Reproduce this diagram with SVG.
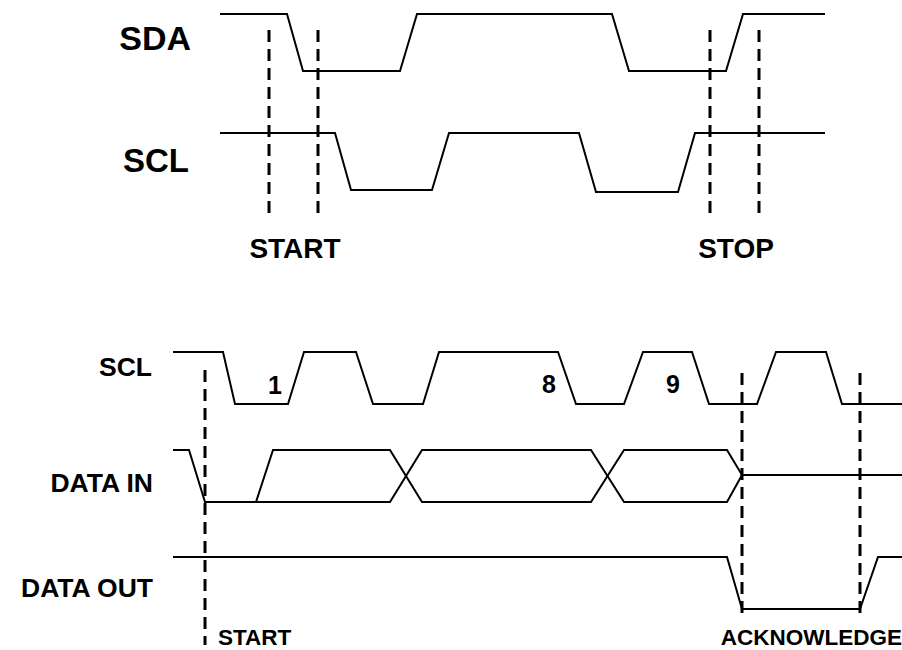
<svg xmlns="http://www.w3.org/2000/svg" width="902" height="650" viewBox="0 0 902 650">
<style>
.w{fill:none;stroke:#000;stroke-width:2;stroke-linejoin:miter}
.d{fill:none;stroke:#000;stroke-width:3;stroke-dasharray:12 7}
.t{font-family:"Liberation Sans",Arial,sans-serif;font-weight:bold;fill:#000}
</style>
<rect width="902" height="650" fill="#fff"/>
<g id="labels">
<text class="t" x="191" y="50" font-size="34" text-anchor="end">SDA</text>
<text class="t" x="189" y="172" font-size="33" text-anchor="end">SCL</text>
<text class="t" x="295" y="258" font-size="28" text-anchor="middle">START</text>
<text class="t" x="736" y="258" font-size="28" text-anchor="middle">STOP</text>
<text class="t" x="152" y="376" font-size="26.5" text-anchor="end">SCL</text>
<text class="t" x="153" y="492" font-size="26.5" text-anchor="end">DATA IN</text>
<text class="t" x="153" y="597" font-size="26.5" text-anchor="end">DATA OUT</text>
<text class="t" x="218" y="645" font-size="22.5">START</text>
<text class="t" x="902" y="645" font-size="22.5" text-anchor="end">ACKNOWLEDGE</text>
<text class="t" x="275" y="394" font-size="25" text-anchor="middle">1</text>
<text class="t" x="549" y="393" font-size="25" text-anchor="middle">8</text>
<text class="t" x="673" y="393" font-size="25" text-anchor="middle">9</text>
</g>
<g id="sda-top">
<polyline class="w" points="220,14 287,14 303,71 400,71 417,14 612,14 629,71 726,71 743,14 825,14"/>
</g>
<g id="scl-top">
<polyline class="w" points="220,133 335,133 351,190 432,190 449,133 579,133 596,192 678,192 695,133 825,133"/>
</g>
<g id="scl-bottom">
<polyline class="w" points="173,352 223,352 235,404 288,404 304,352 356,352 373,404 423,404 439,352 558,352 576,404 624,404 643,352 692,352 709,404 757,404 776,352 826,352 842,404 902,404"/>
</g>
<g id="data-in">
<polyline class="w" points="173,450 189,450 205,502 390,502 422,450 591,450 624,502 727,502 742,475 902,475"/>
<polyline class="w" points="205,502 256,502 273,450 390,450 422,502 591,502 624,450 727,450 742,475"/>
</g>
<g id="data-out">
<polyline class="w" points="173,557 727,557 742,609 860,609 878,557 902,557"/>
</g>
<g id="markers">
<line class="d" x1="269" y1="30" x2="269" y2="220"/>
<line class="d" x1="318" y1="30" x2="318" y2="220"/>
<line class="d" x1="710" y1="30" x2="710" y2="220"/>
<line class="d" x1="759" y1="30" x2="759" y2="220"/>
<line class="d" x1="205" y1="370" x2="205" y2="645"/>
<line class="d" x1="742" y1="373" x2="742" y2="618"/>
<line class="d" x1="860" y1="373" x2="860" y2="618"/>
</g>
</svg>
